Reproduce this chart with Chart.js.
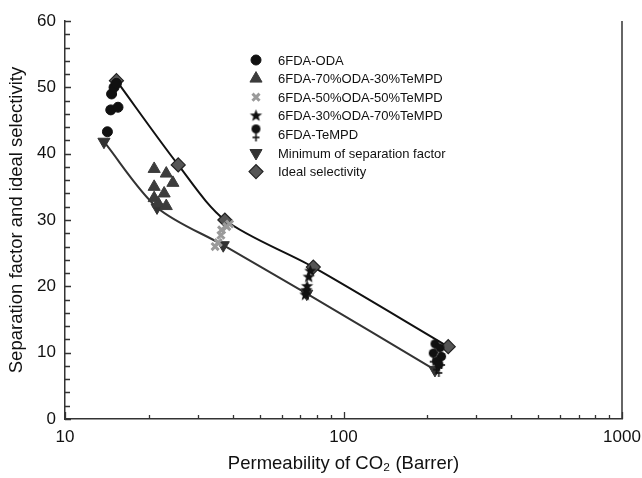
<!DOCTYPE html>
<html>
<head>
<meta charset="utf-8">
<script src="https://cdn.jsdelivr.net/npm/chart.js@4/dist/chart.umd.min.js"></script>
<style>
  html, body { margin: 0; padding: 0; background: #fff; }
  #wrap { width: 642px; height: 478px; position: relative; }
</style>
</head>
<body>
<div id="wrap"><canvas id="c" width="642" height="478"></canvas></div>
<script>
// CO2 permeability (Barrer) and CO2/CH4 separation factor per membrane
const odaP = [14.2, 14.6, 15.5, 14.7, 15.0, 15.3];
const odaS = [43.3, 46.6, 47.0, 49.0, 50.0, 50.6];

const m70P = [20.9, 23.1, 24.4, 20.9, 22.7, 20.9, 21.6, 23.1];
const m70S = [37.7, 37.0, 35.6, 35.0, 34.0, 33.3, 32.5, 32.1];

const m50P = [34.6, 35.5, 36.3, 36.5, 38.1, 39.0];
const m50S = [26.0, 26.6, 27.7, 28.5, 29.0, 29.4];

const m30P = [76.0, 75.0, 74.0, 73.5, 73.0];
const m30S = [22.3, 21.4, 20.0, 19.4, 18.7];

const tempdP = [213, 222, 210, 225, 216, 220];
const tempdS = [10.5, 9.9, 9.1, 8.6, 7.9, 7.4];

const minP = [13.8, 21.4, 37.0, 73.8, 213];
const minS = [41.8, 31.9, 26.2, 18.9, 7.4];

const idealP = [15.3, 25.5, 37.5, 77.9, 237.7];
const idealS = [51.0, 38.3, 30.0, 22.9, 10.9];

const seriesNames = [
  '6FDA-ODA',
  '6FDA-70%ODA-30%TeMPD',
  '6FDA-50%ODA-50%TeMPD',
  '6FDA-30%ODA-70%TeMPD',
  '6FDA-TeMPD',
  'Minimum of separation factor',
  'Ideal selectivity'
];

const xTickValues = [10, 20, 30, 40, 50, 60, 70, 80, 90, 100, 200, 300, 400, 500, 600, 700, 800, 900, 1000];
const xTickLabels = [10, 100, 1000];
const yTickLabels = [0, 10, 20, 30, 40, 50, 60];

const FONT = "'Liberation Sans', Arial, sans-serif";

function pts(xs, ys) { return xs.map((x, i) => ({ x: x, y: ys[i] })); }

// filled five-pointed star marker
function makeStar(r, color) {
  const s = Math.ceil(r * 2 + 2);
  const cv = document.createElement('canvas');
  cv.width = s; cv.height = s;
  const g = cv.getContext('2d');
  g.fillStyle = color;
  g.beginPath();
  for (let i = 0; i < 10; i++) {
    const rr = i % 2 === 0 ? r : r * 0.42;
    const a = -Math.PI / 2 + i * Math.PI / 5;
    const px = s / 2 + rr * Math.cos(a), py = s / 2 + rr * Math.sin(a);
    if (i === 0) g.moveTo(px, py); else g.lineTo(px, py);
  }
  g.closePath();
  g.fill();
  return cv;
}

// filled circle with a cross below it
function makeFemale(color) {
  const cv = document.createElement('canvas');
  cv.width = 11; cv.height = 22;
  const g = cv.getContext('2d');
  g.fillStyle = color; g.strokeStyle = color;
  g.beginPath(); g.arc(5.5, 5.5, 4.5, 0, Math.PI * 2); g.fill();
  g.lineWidth = 1.6;
  g.beginPath(); g.moveTo(5.5, 9); g.lineTo(5.5, 18); g.stroke();
  g.beginPath(); g.moveTo(2, 14); g.lineTo(9, 14); g.stroke();
  return cv;
}

const starImg = makeStar(6.5, '#111');
const femaleImg = makeFemale('#111');

const markerDefs = [
  { pointStyle: 'circle', radius: 5, rotation: 0, bg: '#111', border: '#111', bw: 1 },
  { pointStyle: 'triangle', radius: 7, rotation: 0, bg: '#3c3c3c', border: '#3c3c3c', bw: 1 },
  { pointStyle: 'crossRot', radius: 5, rotation: 0, bg: '#9a9a9a', border: '#9a9a9a', bw: 3 },
  { pointStyle: starImg, radius: 6, rotation: 0, bg: '#111', border: '#111', bw: 0 },
  { pointStyle: femaleImg, radius: 6, rotation: 0, bg: '#111', border: '#111', bw: 0 },
  { pointStyle: 'triangle', radius: 7, rotation: 180, bg: '#333', border: '#333', bw: 1 },
  { pointStyle: 'rectRot', radius: 7, rotation: 0, bg: '#555', border: '#222', bw: 1.2 }
];

function scatterSet(label, data, k, extra) {
  const m = markerDefs[k];
  return Object.assign({
    label: label,
    data: data,
    showLine: false,
    pointStyle: m.pointStyle,
    rotation: m.rotation,
    pointRadius: m.radius,
    pointHoverRadius: m.radius,
    backgroundColor: m.bg,
    borderColor: m.border,
    pointBorderWidth: m.bw,
    order: 1
  }, extra || {});
}

const datasets = [
  scatterSet(seriesNames[0], pts(odaP, odaS), 0),
  scatterSet(seriesNames[1], pts(m70P, m70S), 1),
  scatterSet(seriesNames[2], pts(m50P, m50S), 2),
  scatterSet(seriesNames[3], pts(m30P, m30S), 3),
  scatterSet(seriesNames[4], pts(tempdP, tempdS), 4),
  scatterSet(seriesNames[5], pts(minP, minS), 5, {
    showLine: true, borderWidth: 2, tension: 0.3, borderColor: '#333'
  }),
  scatterSet(seriesNames[6], pts(idealP, idealS), 6, {
    showLine: true, borderWidth: 2, tension: 0.3, borderColor: '#111',
    pointBorderColor: '#222'
  })
];

// inward tick marks and the right-hand frame edge
const frameTicks = {
  id: 'frameTicks',
  afterDraw(chart) {
    const ctx = chart.ctx;
    const a = chart.chartArea;
    const xs = chart.scales.x, ys = chart.scales.y;
    ctx.save();
    ctx.strokeStyle = '#333';
    ctx.lineWidth = 1.3;
    ctx.beginPath();
    xs.ticks.forEach(t => {
      const px = Math.round(xs.getPixelForValue(t.value)) + 0.5;
      const major = xTickLabels.includes(t.value);
      ctx.moveTo(px, a.bottom);
      ctx.lineTo(px, a.bottom - (major ? 7 : 4));
    });
    ys.ticks.forEach(t => {
      const py = Math.round(ys.getPixelForValue(t.value)) + 0.5;
      const major = yTickLabels.includes(t.value);
      ctx.moveTo(a.left, py);
      ctx.lineTo(a.left + (major ? 6 : 5), py);
    });
    ctx.stroke();
    ctx.lineWidth = 1.5;
    ctx.beginPath();
    ctx.moveTo(a.right, a.top);
    ctx.lineTo(a.right, a.bottom);
    ctx.stroke();
    ctx.restore();
  }
};

// legend drawn inside the plot area
const innerLegend = {
  id: 'innerLegend',
  afterDraw(chart) {
    const ctx = chart.ctx;
    const mx = 256, tx = 278, y0 = 60, dy = 18.6;
    ctx.save();
    ctx.font = '13px ' + FONT;
    ctx.textBaseline = 'middle';
    ctx.textAlign = 'left';
    seriesNames.forEach((name, i) => {
      const m = markerDefs[i];
      const y = y0 + i * dy;
      ctx.fillStyle = m.bg;
      ctx.strokeStyle = m.border;
      ctx.lineWidth = m.bw;
      Chart.helpers.drawPoint(ctx, {
        pointStyle: m.pointStyle, rotation: m.rotation, radius: m.radius, borderWidth: m.bw
      }, mx, y);
      ctx.fillStyle = '#111';
      ctx.fillText(name, tx, y + 1);
    });
    ctx.restore();
  }
};

new Chart(document.getElementById('c'), {
  type: 'scatter',
  data: { datasets: datasets },
  options: {
    responsive: false,
    animation: false,
    layout: { padding: { top: 21, right: 20, left: 0, bottom: 0 } },
    plugins: {
      legend: { display: false },
      tooltip: { enabled: false }
    },
    scales: {
      x: {
        type: 'logarithmic',
        min: 10,
        max: 1000,
        afterBuildTicks(scale) { scale.ticks = xTickValues.map(v => ({ value: v })); },
        afterFit(scale) { scale.height = 59; scale.paddingLeft = 0; scale.paddingRight = 0; },
        grid: { display: false, drawTicks: false },
        border: { display: true, color: '#333', width: 1.5 },
        ticks: {
          autoSkip: false,
          maxRotation: 0,
          padding: 8,
          color: '#111',
          font: { family: FONT, size: 17 },
          callback: (v) => xTickLabels.includes(v) ? String(v) : ''
        },
        title: {
          display: true,
          text: 'Permeability of CO\u2082 (Barrer)',
          color: '#111',
          font: { family: FONT, size: 18.5 },
          padding: { top: 0, bottom: 3 }
        }
      },
      y: {
        min: 0,
        max: 60,
        afterFit(scale) { scale.width = 65; scale.paddingTop = 0; scale.paddingBottom = 0; },
        grid: { display: false, drawTicks: false },
        border: { display: true, color: '#333', width: 1.5 },
        ticks: {
          stepSize: 2,
          autoSkip: false,
          padding: 9,
          color: '#111',
          font: { family: FONT, size: 17 },
          callback: (v) => yTickLabels.includes(v) ? String(v) : ''
        },
        title: {
          display: true,
          text: 'Separation factor and ideal selectivity',
          color: '#111',
          font: { family: FONT, size: 18.5 },
          padding: { top: 6, bottom: 2 }
        }
      }
    }
  },
  plugins: [frameTicks, innerLegend]
});
</script>
</body>
</html>
